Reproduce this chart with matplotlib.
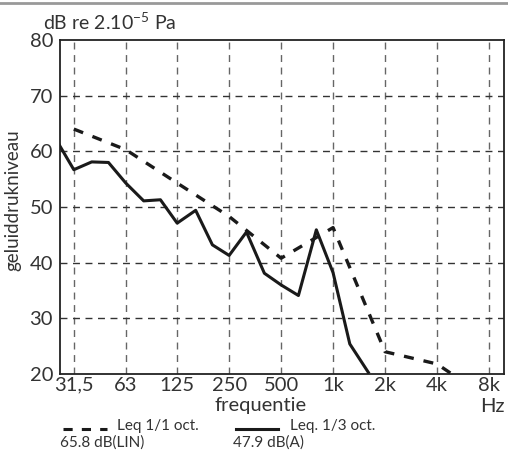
import matplotlib.pyplot as plt
from matplotlib.lines import Line2D

plt.rcParams['font.family'] = ['Lato', 'DejaVu Sans']

# 1/3 octave band levels (solid)
third_freq = [25, 31.5, 40, 50, 63, 80, 100, 125, 160, 200, 250, 315,
              400, 500, 630, 800, 1000, 1250, 1600]
third_db = [62, 56.7, 58.1, 58.0, 54.3, 51.1, 51.3, 47.1, 49.4, 43.2, 41.3,
            45.5, 38.1, 36.0, 34.1, 45.9, 38.2, 25.4, 20.3]

# 1/1 octave band levels (dashed)
oct_freq = [31.5, 63, 125, 250, 500, 1000, 2000, 4000, 8000]
oct_db = [64, 60.3, 54.3, 48.3, 40.8, 46.3, 24, 21.8, 15.5]

tick_labels = ['31,5', '63', '125', '250', '500', '1k', '2k', '4k', '8k']
y_ticks = [20, 30, 40, 50, 60, 70, 80]

fig = plt.figure(figsize=(5.08, 4.5), dpi=100)
ax = fig.add_axes([60 / 508, 76 / 450, 444 / 508, 334 / 450])

ax.set_xscale('log', base=2)
ax.set_xlim(26.2, 9775)
ax.set_ylim(20, 80)

# grid
for f in oct_freq:
    ax.axvline(f, color='#666666', lw=1, dashes=(5, 4), zorder=1)
for y in y_ticks[1:-1]:
    ax.axhline(y, color='#333333', lw=1, dashes=(5, 4), zorder=1)

ax.plot(third_freq, third_db, color='#1a1a1a', lw=2.2, zorder=3)
ax.plot(oct_freq, oct_db, color='#1a1a1a', lw=2.4, dashes=(3, 3), zorder=3)

ax.set_xticks(oct_freq)
ax.set_xticklabels(tick_labels)
ax.minorticks_off()
ax.set_yticks(y_ticks)
ax.tick_params(length=0, labelsize=14.5, colors='#333333', pad=2)
ax.tick_params(axis='y', pad=5)
for s in ax.spines.values():
    s.set_linewidth(1.3)
    s.set_color('#222222')

fig.text(13 / 508, 1 - 200 / 450, 'geluiddrukniveau', fontsize=13.5,
         rotation=90, ha='center', va='center', color='#333333')
fig.text(261 / 508, 1 - 406 / 450, 'frequentie', fontsize=14.5, ha='center',
         va='center', color='#333333')
fig.text(492 / 508, 1 - 406 / 450, 'Hz', fontsize=14.5, ha='center',
         va='center', color='#333333')
fig.text(43 / 508, 1 - 22 / 450, r'dB re 2.10$^{\mathregular{-5}}$ Pa',
         fontsize=14, ha='left', va='center', color='#333333')

# top gray rule
fig.add_artist(Line2D([0, 1], [1 - 3 / 450, 1 - 3 / 450], color='#999999',
                      lw=2, transform=fig.transFigure))

# legend
fig.add_artist(Line2D([63 / 508, 107 / 508], [1 - 429 / 450] * 2,
                      color='#1a1a1a', lw=2.2, dashes=(3, 3),
                      transform=fig.transFigure))
fig.add_artist(Line2D([236 / 508, 278 / 508], [1 - 429 / 450] * 2,
                      color='#1a1a1a', lw=2.2, transform=fig.transFigure))
fig.text(117 / 508, 1 - 426 / 450, 'Leq 1/1 oct.', fontsize=11,
         va='center', color='#333333')
fig.text(60 / 508, 1 - 443 / 450, '65.8 dB(LIN)', fontsize=11,
         va='center', color='#333333')
fig.text(290 / 508, 1 - 426 / 450, 'Leq. 1/3 oct.', fontsize=11,
         va='center', color='#333333')
fig.text(233 / 508, 1 - 443 / 450, '47.9 dB(A)', fontsize=11,
         va='center', color='#333333')

fig.savefig('out.png', dpi=100)
